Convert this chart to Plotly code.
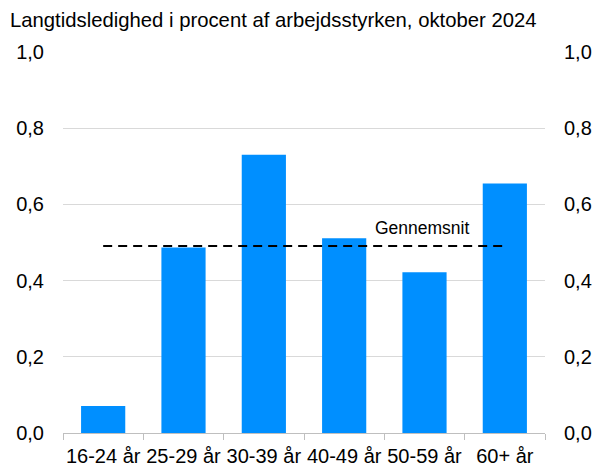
import plotly.graph_objects as go

categories = ["16-24 år", "25-29 år", "30-39 år", "40-49 år", "50-59 år", "60+ år"]
values = [0.071, 0.487, 0.730, 0.511, 0.422, 0.655]
average = 0.491
avg_label = "Gennemsnit"
title = "Langtidsledighed i procent af arbejdsstyrken, oktober 2024"
y_ticks = [0.0, 0.2, 0.4, 0.6, 0.8, 1.0]
y_tick_text = ["0,0", "0,2", "0,4", "0,6", "0,8", "1,0"]

FONT = "Liberation Sans, Arial, sans-serif"
W, H = 594, 467

fig = go.Figure()
fig.add_trace(go.Bar(x=categories, y=values, marker=dict(color="#008FFF", line=dict(width=0)),
                     width=0.55, showlegend=False, hoverinfo="skip"))
fig.add_trace(go.Scatter(x=categories, y=[average] * len(categories), mode="lines",
                         line=dict(color="black", width=2, dash="9px,6px"), showlegend=False,
                         hoverinfo="skip"))
fig.add_trace(go.Scatter(x=categories, y=values, yaxis="y2", mode="markers",
                         marker=dict(opacity=0), showlegend=False, hoverinfo="skip"))

fig.add_annotation(x=categories[4], y=average, yshift=18, text=avg_label, showarrow=False,
                   font=dict(family=FONT, size=17.5, color="black"), xshift=-3)

axis_font = dict(family=FONT, size=20, color="black")
fig.update_layout(
    width=W, height=H,
    margin=dict(l=63, r=49, t=52, b=34, autoexpand=False),
    paper_bgcolor="white", plot_bgcolor="white",
    title=dict(text=title, x=10 / W, xref="container", xanchor="left",
               y=1 - 19.5 / H, yref="container", yanchor="middle",
               font=dict(family=FONT, size=20.3, color="black")),
    xaxis=dict(type="category", showline=True, linecolor="#bfbfbf", linewidth=1,
               ticks="outside", tickson="boundaries", ticklen=6, tickcolor="#bfbfbf",
               tickangle=0, tickfont=axis_font, showgrid=False, fixedrange=True,
               ticklabelstandoff=5, automargin=False),
    yaxis=dict(range=[0, 1], tickvals=y_ticks, ticktext=y_tick_text, showgrid=True,
               gridcolor="#d9d9d9", gridwidth=1, zeroline=False, tickfont=axis_font,
               ticks="", ticklabelstandoff=18, showline=False, automargin=False),
    yaxis2=dict(range=[0, 1], tickvals=y_ticks, ticktext=y_tick_text, overlaying="y",
                side="right", showgrid=False, zeroline=False, tickfont=axis_font,
                ticks="", ticklabelstandoff=18, showline=False, automargin=False),
)

# remove the browser's default page margin so the figure fills the window exactly
fig.write_html("out.html", config={"displayModeBar": False},
               post_script="document.body.style.margin='0';document.body.style.overflow='hidden';")
